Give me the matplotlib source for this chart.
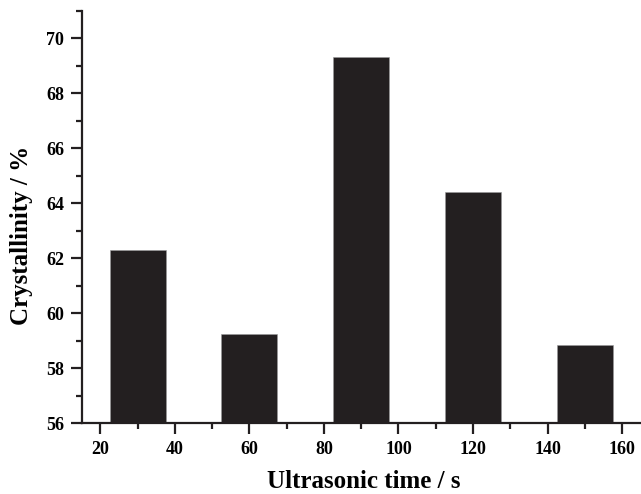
import numpy as np
import matplotlib
matplotlib.use("Agg")
import matplotlib.pyplot as plt
from matplotlib.ticker import MultipleLocator

# data
times = [30, 60, 90, 120, 150]
crystallinity = [62.30, 59.24, 69.33, 64.42, 58.86]
bar_width = 15

plt.rcParams["font.family"] = ["Liberation Serif", "DejaVu Serif"]
plt.rcParams["font.weight"] = "bold"

fig = plt.figure(figsize=(6.41, 4.94), dpi=100)
ax = fig.add_axes([0.1275, 0.143, 0.872, 0.835])

ax.bar(times, crystallinity, width=bar_width, color="#231f20",
       edgecolor="#9a9a9a", linewidth=0.4)

ax.set_xlim(15, 165)
ax.set_ylim(56, 71)
ax.xaxis.set_major_locator(MultipleLocator(20))
ax.xaxis.set_minor_locator(MultipleLocator(10))
ax.yaxis.set_major_locator(MultipleLocator(2))
ax.yaxis.set_minor_locator(MultipleLocator(1))

for s in ["top", "right"]:
    ax.spines[s].set_visible(False)
for s in ["left", "bottom"]:
    ax.spines[s].set_linewidth(1.6)
    ax.spines[s].set_color("#231f20")

ax.tick_params(which="major", direction="out", length=8, width=1.6,
               labelsize=13, pad=4.5, color="#231f20")
ax.tick_params(which="minor", direction="out", length=4.3, width=1.6,
               color="#231f20")
for lab in ax.get_xticklabels() + ax.get_yticklabels():
    lab.set_fontweight("bold")

ax.set_xlabel("Ultrasonic time / s", fontsize=18, fontweight="bold",
              va="center", ha="center")
ax.set_ylabel("Crystallinity / %", fontsize=18, fontweight="bold",
              va="center", ha="center")
ax.xaxis.set_label_coords(0.505, -0.142)
ax.yaxis.set_label_coords(-0.107, 0.455)

fig.savefig("out.png", dpi=100)
